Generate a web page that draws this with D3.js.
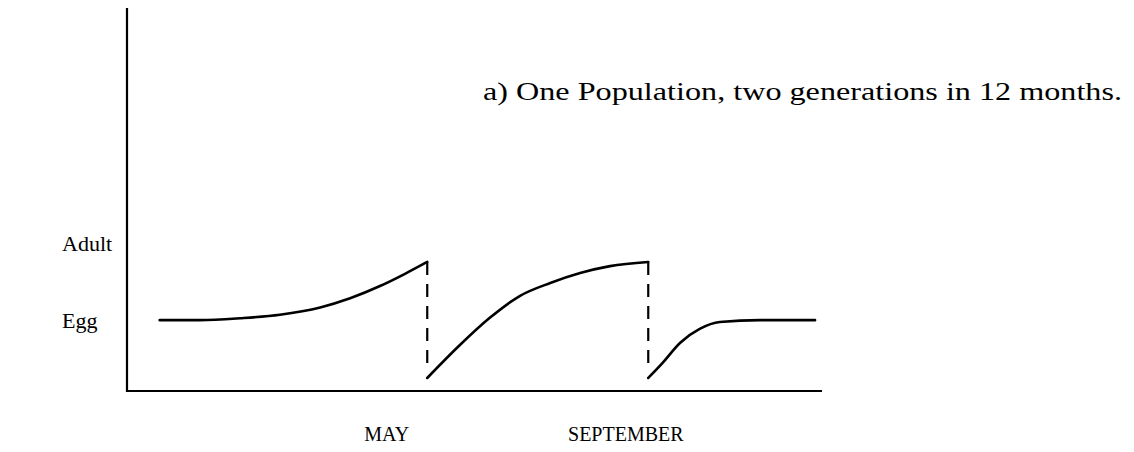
<!DOCTYPE html>
<html>
<head>
<meta charset="utf-8">
<script src="https://cdn.jsdelivr.net/npm/d3@7"></script>
<style>
  html, body { margin: 0; padding: 0; background: #fff; }
  svg { display: block; }
  text { font-family: "Liberation Serif", "Times New Roman", serif; fill: #000; }
</style>
</head>
<body>
<svg id="chart" width="1134" height="452"></svg>
<script>
// ---- data (time in arbitrary units 0..100, stage level in arbitrary units 0..100) ----
const stageLabels = ["Egg", "Adult"];
const stageValues = [18.5, 38.6];
const monthLabels = ["MAY", "SEPTEMBER"];
const monthValues = [37.3, 71.7];
const titleText = "a) One Population, two generations in 12 months.";

const gen1X = [4.7, 10.5, 16.3, 22.0, 27.8, 32.1, 36.4, 40.0, 43.2];
const gen1Y = [18.5, 18.5, 19.0, 19.9, 21.8, 24.2, 27.4, 30.6, 33.7];
const gen2X = [43.2, 47.9, 52.2, 56.5, 60.9, 65.2, 69.5, 75.0];
const gen2Y = [3.4, 12.0, 19.1, 24.8, 28.2, 30.8, 32.6, 33.7];
const gen3X = [75.0, 77.0, 79.6, 82.4, 85.3, 91.1, 99.0];
const gen3Y = [3.4, 7.2, 12.6, 16.2, 18.0, 18.5, 18.5];
const dropX = [43.2, 75.0];
const dropTop = [33.7, 33.7];
const dropBottom = [3.4, 3.4];

// ---- layout ----
const svg = d3.select("#chart");
const x = d3.scaleLinear().domain([0, 100]).range([127, 822]);
const y = d3.scaleLinear().domain([0, 100]).range([391, 8]);

// y labels (stages)
const yAxis = d3.axisLeft(y).tickValues(stageValues).tickFormat((d, i) => stageLabels[i])
  .tickSize(0).tickPadding(0);
const gy = svg.append("g").attr("transform", `translate(${x(0)},0)`).call(yAxis);
gy.select(".domain").remove();
gy.selectAll("text")
  .attr("x", 62 - x(0))
  .attr("text-anchor", "start")
  .attr("font-size", 22)
  .style("font-family", "'Liberation Serif', serif");

// x labels (months)
const xAxis = d3.axisBottom(x).tickValues(monthValues).tickFormat((d, i) => monthLabels[i])
  .tickSize(0).tickPadding(36);
const gx = svg.append("g").attr("transform", `translate(0,${y(0)})`).call(xAxis);
gx.select(".domain").remove();
gx.selectAll("text").attr("font-size", 20).style("font-family", "'Liberation Serif', serif");

// axis lines
svg.append("line")
  .attr("x1", x(0)).attr("x2", x(0)).attr("y1", y(100)).attr("y2", y(0) + 1)
  .attr("stroke", "#000").attr("stroke-width", 2.2);
svg.append("line")
  .attr("x1", x(0)).attr("x2", x(100)).attr("y1", y(0)).attr("y2", y(0))
  .attr("stroke", "#000").attr("stroke-width", 2.2);

// curves
const line = d3.line().x(d => x(d[0])).y(d => y(d[1])).curve(d3.curveMonotoneX);
[[gen1X, gen1Y], [gen2X, gen2Y], [gen3X, gen3Y]].forEach(([xs, ys]) => {
  svg.append("path")
    .datum(xs.map((v, i) => [v, ys[i]]))
    .attr("d", line)
    .attr("fill", "none").attr("stroke", "#000").attr("stroke-width", 2.6)
    .attr("stroke-linejoin", "round").attr("stroke-linecap", "round");
});

// dashed drops
dropX.forEach((dx, i) => {
  svg.append("line")
    .attr("x1", x(dx)).attr("x2", x(dx))
    .attr("y1", y(dropTop[i])).attr("y2", y(dropBottom[i]) - 6)
    .attr("stroke", "#000").attr("stroke-width", 2.2)
    .attr("stroke-dasharray", "13,9");
});

// title
svg.append("text")
  .attr("x", 483).attr("y", 100)
  .attr("font-size", 26)
  .attr("textLength", 639)
  .attr("lengthAdjust", "spacingAndGlyphs")
  .style("font-family", "'Liberation Serif', serif")
  .text(titleText);
</script>
</body>
</html>
